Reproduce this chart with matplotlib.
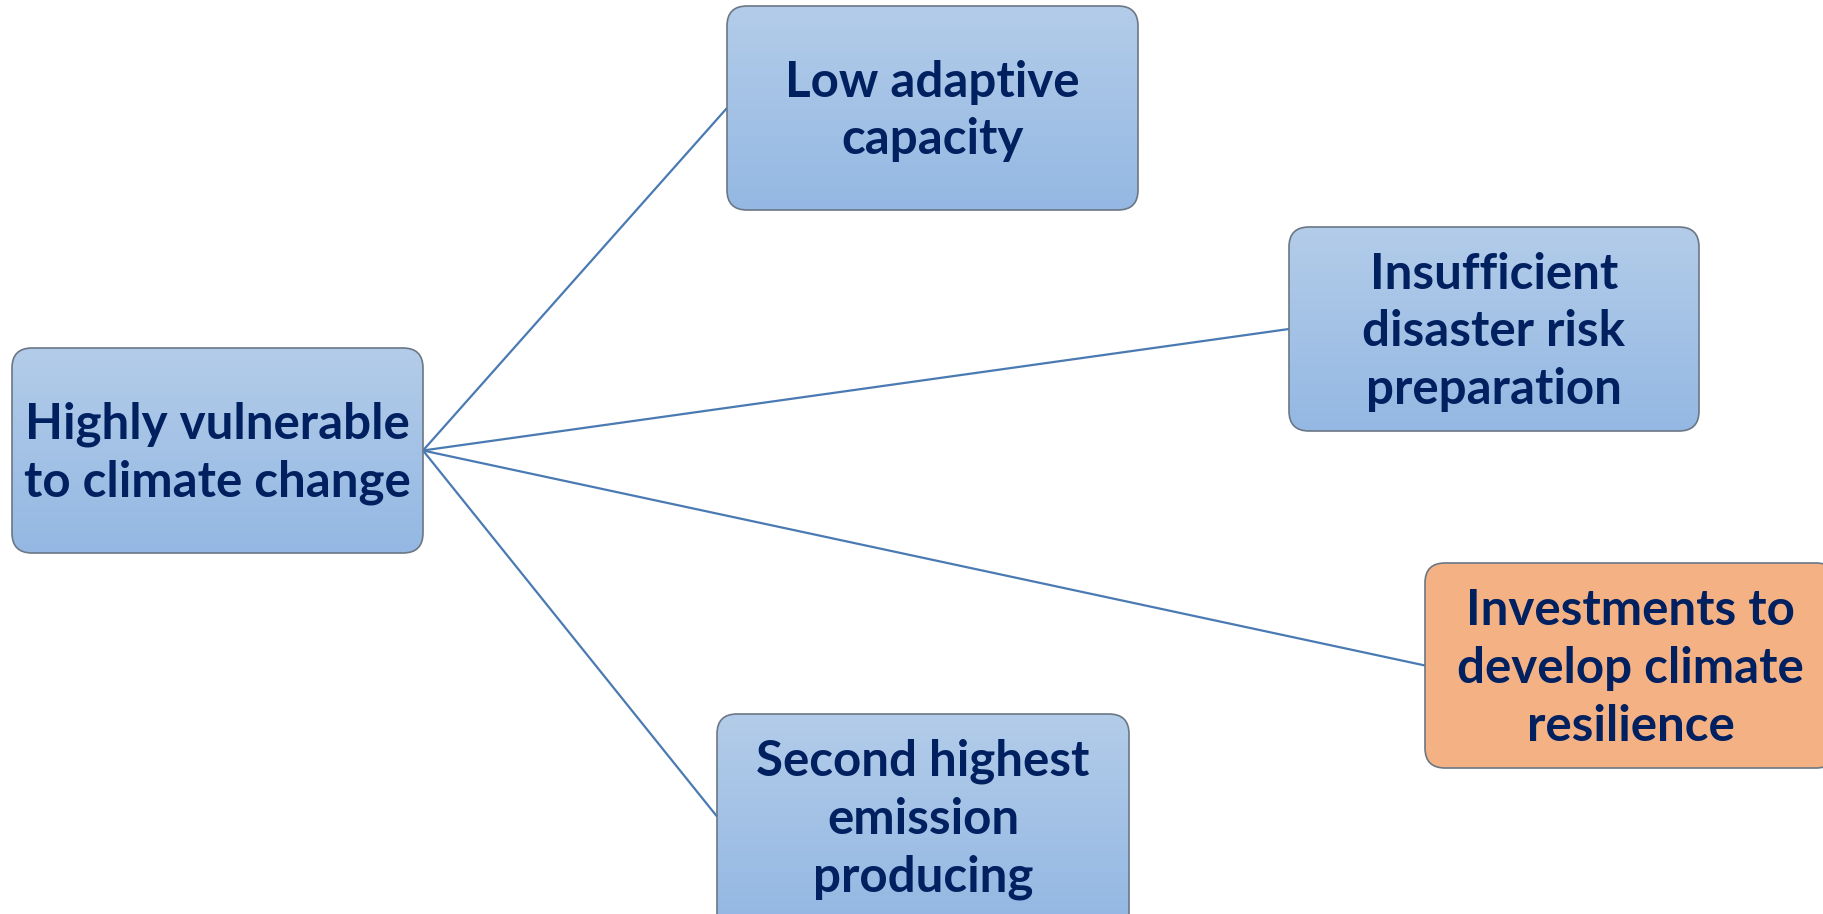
import numpy as np
import matplotlib
matplotlib.use("Agg")
import matplotlib.pyplot as plt
from matplotlib.patches import FancyBboxPatch

# Texto de cada caixa do diagrama.
centro = "Highly vulnerable\nto climate change"
ramos = [
    "Low adaptive\ncapacity",
    "Insufficient\ndisaster risk\npreparation",
    "Investments to\ndevelop climate\nresilience",
    "Second highest\nemission\nproducing",
]
destaque = [False, False, True, False]   # caixa laranja

# Layout em pixels (x, y do canto superior esquerdo, largura, altura).
pos_centro = (12, 348, 411, 205)
pos_ramos = [
    (727, 6, 411, 204),
    (1289, 227, 410, 204),
    (1425, 563, 411, 205),
    (717, 714, 412, 205),
]

W, H = 1824, 914
fig = plt.figure(figsize=(W / 100, H / 100), dpi=100)
ax = fig.add_axes([0, 0, 1, 1])
ax.set_xlim(0, W)
ax.set_ylim(H, 0)
ax.axis("off")

cor_texto = "#002060"
cor_linha = "#4a7ab2"
cor_borda = "#6b7785"
azul_topo = np.array([0.702, 0.800, 0.914])
azul_base = np.array([0.580, 0.722, 0.890])
laranja = "#f4b183"


def caixa(x, y, w, h, texto, laranja_on=False):
    # a caixa de baixo sai da figura: desenha mais alta para esconder o canto
    h_desenho = h + 30 if y + h > H else h
    patch = FancyBboxPatch((x, y), w, h_desenho, boxstyle="round,pad=0,rounding_size=20",
                           facecolor=laranja if laranja_on else "none",
                           edgecolor=cor_borda, lw=1.2, zorder=3)
    ax.add_patch(patch)
    if not laranja_on:
        # gradiente vertical do azul
        t = np.linspace(0, 1, 256)[:, None]
        img = azul_topo[None, None, :] * (1 - t[..., None]) + azul_base[None, None, :] * t[..., None]
        img = np.repeat(img, 2, axis=1)
        im = ax.imshow(img, extent=(x, x + w, y + h, y), aspect="auto",
                       interpolation="bilinear", zorder=2)
        im.set_clip_path(patch)
    ax.text(x + w / 2, y + h / 2 + 3, texto, ha="center", va="center",
            fontsize=35.5, fontweight="bold", family="Lato", color=cor_texto,
            linespacing=1.35, zorder=4)


# Linhas ligando a caixa central a cada ramo.
cx, cy = pos_centro[0] + pos_centro[2], pos_centro[1] + pos_centro[3] / 2
for (x, y, w, h) in pos_ramos:
    ax.plot([cx, x], [cy, y + h / 2], color=cor_linha, lw=1.6, zorder=1,
            solid_capstyle="butt")

caixa(*pos_centro, centro)
for (x, y, w, h), txt, d in zip(pos_ramos, ramos, destaque):
    caixa(x, y, w, h, txt, d)

fig.savefig("out.png", dpi=100)
